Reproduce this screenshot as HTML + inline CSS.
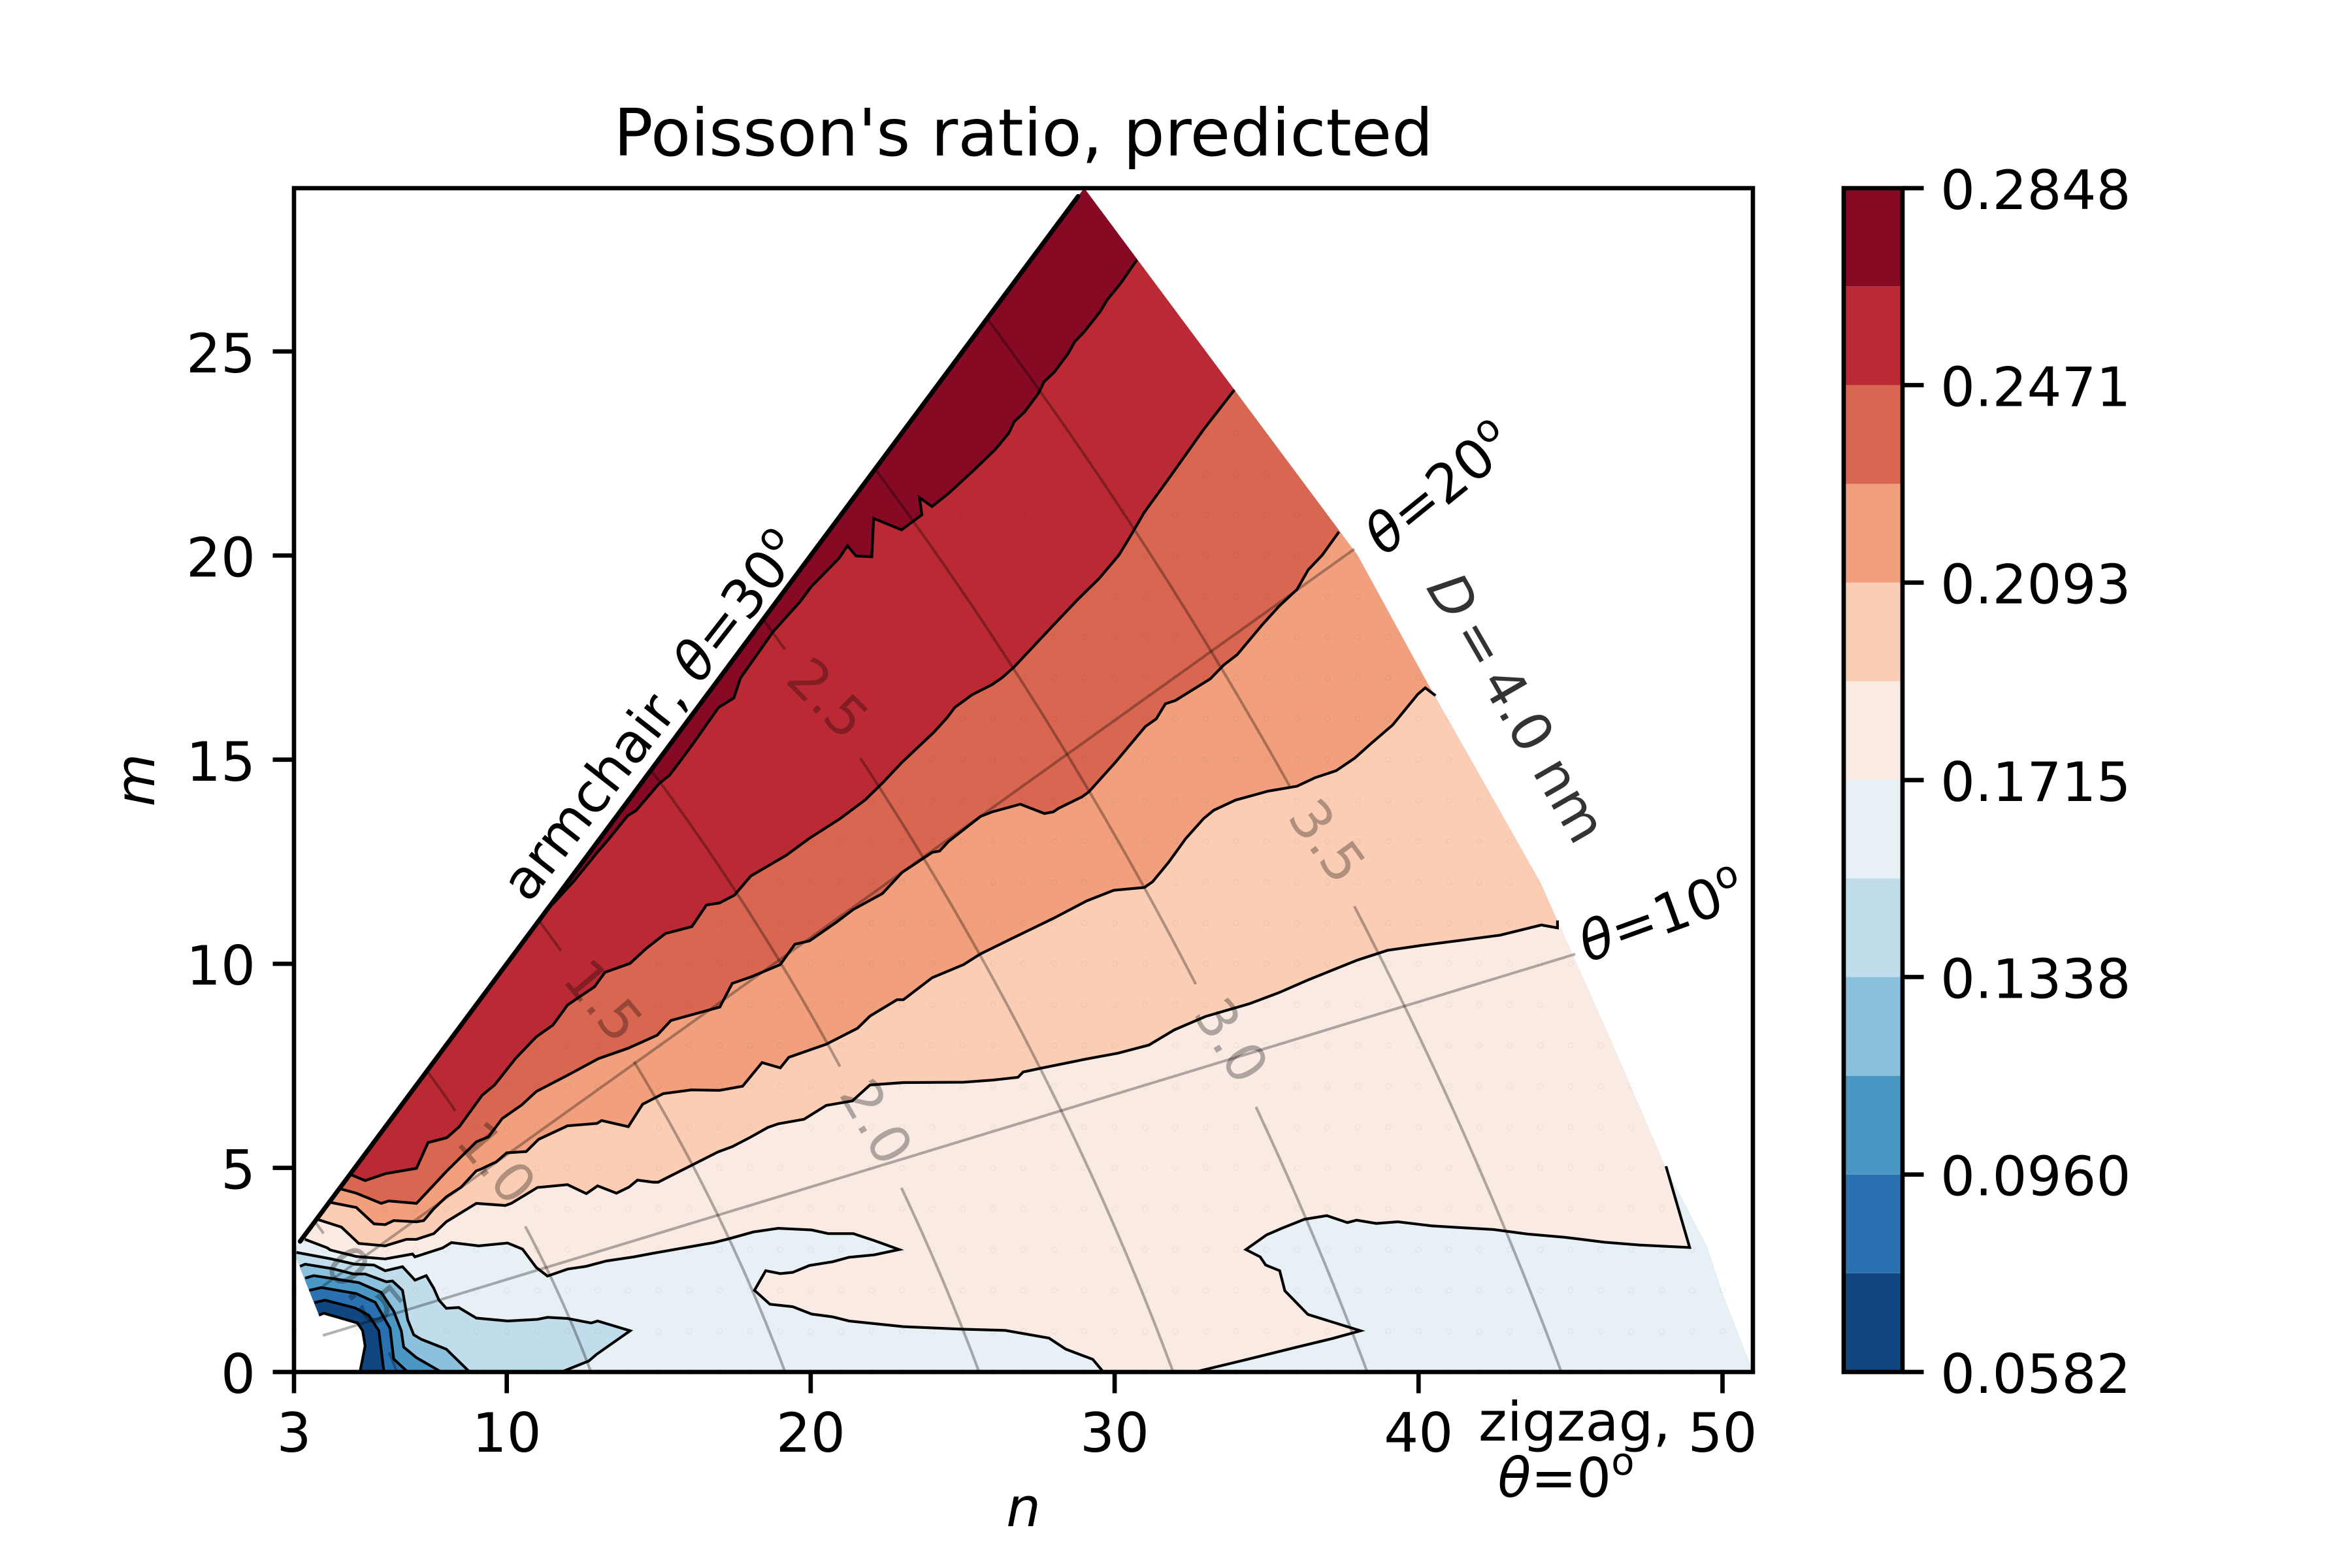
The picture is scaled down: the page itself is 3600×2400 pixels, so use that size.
<!DOCTYPE html>
<html lang="en">
<head>
<meta charset="utf-8">
<title>Poisson's ratio, predicted</title>
<style>
html,body{margin:0;padding:0;background:#fff;}
svg{display:block;font-family:"DejaVu Sans","Liberation Sans",sans-serif;}
</style>
</head>
<body>
<svg id="chart" xmlns="http://www.w3.org/2000/svg" width="3600" height="2400" viewBox="0 0 3600 2400">
  <rect x="0" y="0" width="3600" height="2400" fill="#ffffff"/>
  <defs><clipPath id="domain-clip"><path id="domain-clip-path"/></clipPath></defs>
  <g id="bands" clip-path="url(#domain-clip)"></g>
  <g id="lattice"></g>
  <g id="contours"></g>
  <g id="iso"></g>
  <g id="axes"></g>
  <g id="cbar"></g>
  <text x="1566.5" y="238" font-size="100" text-anchor="middle" fill="#000">Poisson's ratio, predicted</text>
  <text x="1566.5" y="2336" font-size="83.33" font-style="italic" text-anchor="middle" fill="#000">n</text>
  <text transform="translate(236 1194) rotate(-90)" font-size="83.33" font-style="italic" text-anchor="middle" fill="#000">m</text>
  <text transform="translate(809 1384) rotate(-52)" font-size="83.33" fill="#000">armchair, <tspan font-style="italic">θ</tspan>=30<tspan dy="-34" font-size="58">o</tspan></text>
  <text transform="translate(2118.6 852.6) rotate(-39)" font-size="83.33" fill="#000"><tspan font-style="italic">θ</tspan>=20<tspan dy="-34" font-size="58">o</tspan></text>
  <text transform="translate(2430 1473.6) rotate(-20)" font-size="83.33" fill="#000"><tspan font-style="italic">θ</tspan>=10<tspan dy="-34" font-size="58">o</tspan></text>
  <text x="2410" y="2205" font-size="83.33" text-anchor="middle" fill="#000">zigzag,</text>
  <text x="2397" y="2291" font-size="83.33" text-anchor="middle" fill="#000"><tspan font-style="italic">θ</tspan>=0<tspan dy="-34" font-size="58">o</tspan></text>
  <text transform="translate(2182 899) rotate(60)" font-size="83.33" fill="#333333"><tspan font-style="italic">D</tspan><tspan dx="16">=</tspan><tspan dx="16">4.0 nm</tspan></text>
</svg>
<script>
/* ---------- chart data (n, m chirality coordinates) ---------- */
const xTicks = [3, 10, 20, 30, 40, 50];
const yTicks = [0, 5, 10, 15, 20, 25];
const cbarTicks = [0.0582, 0.0960, 0.1338, 0.1715, 0.2093, 0.2471, 0.2848];
const cbarLevels = [0.0582, 0.0771, 0.0960, 0.1149, 0.1338, 0.1527, 0.1715, 0.1904, 0.2093, 0.2282, 0.2471, 0.2660, 0.2848];
const bandColors = ['#114780', '#2a71b2', '#4a97c5', '#8bc1dc', '#c1ddeb', '#e7f0f4', '#f9ebe3', '#fbcdb5', '#f19f7d', '#d86651', '#bb2a34', '#860a24'];

const rightEdge = [[29,29],[38,20],[40.2,17],[44,12],[44.6,11],[46.4,8],[48.1,5.05],[49.5,3.04],[50,1.9],[51,0]];
const contour0 = [[3.82,1.39],[3.98,1.44],[5.09,1.2],[5.26,1.01],[5.34,0.64],[5.17,0]];
const contour1 = [[3.67,1.7],[4.02,1.76],[5.01,1.57],[5.46,1.39],[5.79,1.01],[5.96,0]];
const contour2 = [[3.5,2],[3.9,2.07],[5.05,1.92],[5.67,1.71],[6.16,1.07],[6.28,0.32],[6.74,0]];
const contour3 = [[3.37,2.3],[3.65,2.36],[5.13,2.19],[5.87,1.95],[6.28,1.49],[6.53,1.01],[6.61,0.61],[7.03,0.35],[7.85,0]];
const contour4 = [[3.2,2.59],[3.37,2.64],[4.27,2.53],[4.97,2.4],[5.34,2.4],[6.04,2.21],[6.24,2.23],[6.57,2],[6.74,1.28],[6.94,0.91],[7.19,0.8],[8.01,0.56],[8.78,0]];
const contour5 = [[3.08,2.93],[4.23,2.77],[5.01,2.64],[5.63,2.62],[6,2.48],[6.57,2.58],[6.98,2.25],[7.35,2.36],[7.6,2.05],[7.77,1.76],[8.01,1.56],[8.42,1.58],[9,1.32],[10.03,1.25],[11.01,1.29],[11.34,1.34],[12,1.31],[12.78,1.2],[12.99,1.25],[14.06,1.01],[12.95,0.43],[12.7,0.27],[11.96,0.05],[11.8,0]];
const contour6a = [[3.36,3.25],[4.1,3.04],[4.19,2.99],[5.05,2.83],[6,2.77],[6.9,2.89],[6.98,2.82],[7.89,3.04],[8.18,3.17],[9.08,3.09],[10.03,3.16],[10.52,3.01],[10.97,2.56],[11.34,2.35],[12,2.52],[12.62,2.59],[13.28,2.72],[14.18,2.82],[14.82,2.91],[16.81,3.17],[17.29,3.26],[18.11,3.43],[18.93,3.52],[20.03,3.48],[20.58,3.39],[21.4,3.39],[22.09,3.22],[22.91,3],[22.09,2.87],[21.26,2.81],[20.72,2.7],[19.96,2.61],[19.41,2.44],[19,2.41],[18.52,2.48],[18.15,2],[18.66,1.66],[19.41,1.6],[20.03,1.42],[20.72,1.35],[21.26,1.25],[23.05,1.11],[24.97,1.05],[26.4,1.02],[27.84,0.83],[28.39,0.56],[29.28,0.31],[29.63,0]];
const contour6b = [[32.64,0],[34.26,0.29],[36.05,0.62],[37.16,0.82],[38.09,1.01],[36.36,1.41],[35.6,1.99],[35.43,2.48],[34.97,2.62],[34.79,2.82],[34.32,3],[35,3.36],[35.5,3.52],[36.24,3.74],[36.98,3.83],[37.66,3.66],[37.96,3.72],[38.61,3.64],[39.32,3.68],[40.43,3.58],[41.54,3.53],[42.47,3.49],[43.58,3.38],[44.81,3.3],[46.11,3.18],[47.28,3.11],[48.92,3.05],[48.14,5.04]];
const contour7 = [[44.57,11.06],[44.57,10.88],[44.04,10.95],[42.68,10.7],[41.45,10.58],[40.09,10.45],[38.98,10.33],[37.99,10.09],[36.35,9.6],[35.4,9.29],[34.43,9.02],[32.99,8.71],[31.96,8.38],[31.13,8.01],[30.11,7.81],[29.08,7.67],[27.57,7.44],[26.99,7.35],[26.82,7.22],[25.99,7.15],[25.03,7.1],[23.05,7.09],[21.95,7.03],[21.37,6.64],[20.51,6.53],[19.78,6.19],[18.93,6.08],[18.59,5.99],[18.04,5.76],[17.42,5.52],[16.95,5.39],[14.98,4.65],[14.82,4.65],[14.3,4.7],[14.02,4.53],[13.61,4.38],[12.99,4.56],[12.62,4.37],[12,4.59],[11.01,4.52],[10.15,4.13],[9.95,4.08],[9,4.13],[8.01,3.68],[7.6,3.39],[7.03,3.25],[6.7,3.25],[6,3.09],[5.13,3.15],[4.56,3.55],[3.8,3.73]];
const contour8 = [[40.56,16.57],[40.22,16.76],[39.97,16.6],[39.15,15.85],[38.4,15.37],[37.9,15.04],[37.29,14.73],[36.6,14.56],[36,14.35],[35.05,14.23],[33.98,14.01],[33.26,13.76],[32.93,13.56],[32.33,13.06],[31.78,12.49],[31.25,12.01],[30.98,11.87],[29.97,11.8],[29.08,11.54],[27.98,11.11],[26.54,10.59],[25.58,10.24],[25.03,9.98],[24,9.66],[23.05,9.12],[22.84,9.12],[21.95,8.72],[21.54,8.42],[20.51,8.03],[19.28,7.71],[19,7.45],[18.4,7.58],[17.76,7],[17,6.9],[16.08,6.91],[15.15,6.82],[14.47,6.56],[14,6.01],[13.12,6.16],[12.97,6.09],[12,6.03],[11.05,5.7],[10.64,5.4],[10,5.37],[9.66,5.15],[9.12,4.96],[9,4.93],[8.5,4.53],[8.01,4.29],[7.6,4],[7.27,3.71],[7.03,3.68],[6.28,3.71],[6,3.61],[5.63,3.63],[5.05,4.03],[4.23,4.15]];
const contour9 = [[37.38,20.58],[36.83,20.01],[36.37,19.65],[36,19.17],[35.4,18.75],[34.85,18.3],[34.03,17.57],[33.59,17.32],[33.15,16.98],[32,16.45],[31.67,16.37],[31.37,16],[31.01,15.81],[30.03,14.94],[29.15,14.21],[28.93,14.09],[28.16,13.81],[27.98,13.72],[27.69,13.68],[26.9,13.91],[25.97,13.72],[25.59,13.61],[24.54,13],[24.24,12.76],[24,12.73],[23.01,12.24],[22.36,11.72],[21.4,11.33],[20.85,11.02],[19.96,10.56],[19.48,10.48],[19,9.98],[18.04,9.68],[17.42,9.52],[17.01,8.94],[15.4,8.61],[14.95,8.25],[13.99,7.93],[13.03,7.68],[12,7.27],[10.97,6.87],[10.49,6.54],[9.85,6.21],[9.4,5.76],[9,5.64],[8.01,4.91],[7.03,4.13],[6.12,4.19],[5.87,4.13],[5.05,4.38],[4.56,4.48]];
const contour10 = [[33.94,24.06],[32.92,23.08],[31.86,21.97],[30.96,21.04],[30.58,20.55],[30.14,20.01],[29.48,19.43],[28.82,18.95],[27.89,18.22],[26.68,17.26],[26.3,17.01],[25.97,16.84],[25.31,16.59],[24.74,16.28],[24.49,16.03],[24.05,15.67],[23.01,14.94],[22.35,14.42],[21.8,14.02],[20.98,13.56],[19.95,13.07],[19.2,12.66],[18.03,12.15],[17.49,11.68],[17,11.49],[16.57,11.44],[16.09,10.91],[15.22,10.74],[14.6,10.38],[14.06,10.01],[13.23,9.79],[12.89,9.44],[12,8.99],[11.52,8.5],[10.97,8.21],[10.29,7.68],[9.6,7.03],[9.19,6.78],[8.44,6.01],[8.03,5.74],[7.41,5.62],[7.03,4.99],[6.02,4.86],[5.34,4.69],[4.85,4.84]];
const contour11 = [[30.73,27.24],[30.2,26.67],[29.75,26.26],[29.52,25.97],[29,25.48],[28.69,25.24],[28.47,24.95],[28.02,24.5],[27.68,24.26],[27.49,23.97],[27.04,23.52],[26.7,23.28],[26.51,22.99],[26.06,22.59],[25.38,22.1],[24.55,21.53],[23.99,21.2],[23.58,21.42],[23.66,21],[22.99,20.63],[22.07,20.91],[22.01,19.97],[21.49,19.99],[21.21,20.24],[20.93,19.93],[20.02,19.24],[19.65,18.87],[18.77,18.14],[17.69,17],[17.47,16.51],[16.97,16.28],[16.09,15.35],[15.36,14.62],[15.02,14.42],[14.25,13.75],[13.98,13.63],[13.33,13.03],[12.98,12.73],[12.18,12],[11.5,11.45]];

const diameterLevels = [0.5, 1.0, 1.5, 2.0, 2.5, 3.0, 3.5];
const diameterGapHighTheta = [27.4, 25.7, 27.8, 14.7, 28.7, 12.4, 16.15];
const diameterGapLowTheta = [3.74, 14, 20.1, 8.8, 24.08, 8.44, 12.77];
const diameterLabelRotation = [50, 50, 50, 60, 45, 58, 54];
const thetaGuides = [10, 20];
const armchairSpan = [3.2, 28.8];

/* ---------- scales ---------- */
const AX = {left: 450, right: 2683, top: 288, bottom: 2100};
const nMin = 3, nMax = 51, mMin = 0, mMax = 29;
const xS = n => AX.left + (n - nMin) / (nMax - nMin) * (AX.right - AX.left);
const yS = m => AX.bottom - (m - mMin) / (mMax - mMin) * (AX.bottom - AX.top);
const CB = {left: 2822, right: 2912, top: 288, bottom: 2100};
const cbS = v => CB.bottom - (v - cbarLevels[0]) / (cbarLevels[cbarLevels.length - 1] - cbarLevels[0]) * (CB.bottom - CB.top);
const toPath = pts => 'M' + pts.map(p => xS(p[0]).toFixed(1) + ' ' + yS(p[1]).toFixed(1)).join('L');

const NS = 'http://www.w3.org/2000/svg';
const add = (tag, parent) => { const el = document.createElementNS(NS, tag); parent.appendChild(el); return el; };
const bandsG = document.getElementById('bands');
const latticeG = document.getElementById('lattice');
const contoursG = document.getElementById('contours');
const isoG = document.getElementById('iso');
const axesG = document.getElementById('axes');
const cbarG = document.getElementById('cbar');

/* ---------- filled bands ---------- */
const domain = [[3,3]].concat(rightEdge, contour0.slice().reverse(), [[3,2.93]]);
document.getElementById('domain-clip-path').setAttribute('d', toPath(domain) + 'Z');

const baseBand = add('path', bandsG);


baseBand.setAttribute('d', toPath(domain) + 'Z');
baseBand.setAttribute('fill', bandColors[0]);

const orderLeftFirst = pts => pts[0][0] > pts[pts.length - 1][0] ? pts.slice().reverse() : pts;
const aboveContour = pts => {
  const first = pts[0], last = pts[pts.length - 1];
  return pts.concat([[60, last[1] <= 0 ? -5 : last[1]], [60, 60], [-10, 60], [-10, first[1]]]);
};
const bandBoundaries = [contour1, contour2, contour3, contour4, contour5, contour6a.concat(contour6b), contour7, contour8, contour9, contour10, contour11];
bandBoundaries.forEach((c, i) => {
  const el = add('path', bandsG);
  
  
  el.setAttribute('d', toPath(aboveContour(orderLeftFirst(c))) + 'Z');
  el.setAttribute('fill', bandColors[i + 1]);
});

/* ---------- lattice of (n, m) samples ---------- */
const chiralLimit = Math.pow(Math.PI * 4.0 / 0.246, 2);
for (let n = nMin; n <= nMax; n++) {
  for (let m = mMin; m <= Math.min(n, mMax); m++) {
    if (n * n + n * m + m * m > chiralLimit) continue;
    const dot = add('circle', latticeG);
    
    
    dot.setAttribute('cx', xS(n));
    dot.setAttribute('cy', yS(m));
    dot.setAttribute('r', 4);
    dot.setAttribute('fill', 'none');
    dot.setAttribute('stroke', 'rgba(0,0,0,0.06)');
    dot.setAttribute('stroke-width', 1);
  }
}

/* ---------- contour lines ---------- */
const contourLines = [contour0, contour1, contour2, contour3, contour4, contour5, contour6a, contour6b, contour7, contour8, contour9, contour10, contour11];
contourLines.forEach(c => {
  const el = add('path', contoursG);
  
  
  el.setAttribute('d', toPath(c));
  el.setAttribute('fill', 'none');
  el.setAttribute('stroke', '#000');
  el.setAttribute('stroke-width', 4.17);
  el.setAttribute('stroke-linejoin', 'miter');
});
const armchair = add('path', contoursG);


armchair.setAttribute('d', toPath([[armchairSpan[0], armchairSpan[0]], [armchairSpan[1], armchairSpan[1]]]));
armchair.setAttribute('stroke', '#000');
armchair.setAttribute('stroke-width', 7);
armchair.setAttribute('stroke-linecap', 'round');

/* ---------- constant-diameter curves and constant-angle guides ---------- */
const chiralPoint = (L, deg) => {
  const t = deg * Math.PI / 180;
  return [L * (Math.cos(t) - Math.sin(t) / Math.sqrt(3)), L * 2 * Math.sin(t) / Math.sqrt(3)];
};
diameterLevels.forEach((D, i) => {
  const L = Math.PI * D / 0.246;
  const hi = diameterGapHighTheta[i], lo = diameterGapLowTheta[i];
  const upper = [], lower = [];
  for (let t = 30; t > hi; t -= 0.5) upper.push(chiralPoint(L, t));
  upper.push(chiralPoint(L, hi));
  lower.push(chiralPoint(L, lo));
  for (let t = lo - 0.5; t > 0; t -= 0.5) lower.push(chiralPoint(L, t));
  lower.push(chiralPoint(L, 0));
  const curve = add('path', isoG);
  
  
  curve.setAttribute('d', toPath(upper) + toPath(lower));
  curve.setAttribute('fill', 'none');
  curve.setAttribute('stroke', 'rgba(0,0,0,0.3)');
  curve.setAttribute('stroke-width', 4.17);
  const c = chiralPoint(L, (hi + lo) / 2);
  const label = add('text', isoG);
  
  
  label.setAttribute('transform', 'translate(' + (xS(c[0]) + 8) + ' ' + (yS(c[1]) - 8) + ') rotate(' + diameterLabelRotation[i] + ')');
  label.setAttribute('font-size', 83.33);
  label.setAttribute('text-anchor', 'middle');
  label.setAttribute('dy', '0.36em');
  label.setAttribute('fill', 'rgba(0,0,0,0.3)');
  label.textContent = D.toFixed(1);
});
thetaGuides.forEach(deg => {
  const unit = chiralPoint(1, deg);
  const guide = add('path', isoG);
  
  
  guide.setAttribute('d', toPath([chiralPoint(3.95 / unit[0], deg), chiralPoint(51.05, deg)]));
  guide.setAttribute('stroke', 'rgba(0,0,0,0.3)');
  guide.setAttribute('stroke-width', 4.17);
});

/* ---------- axes ---------- */
const frame = add('rect', axesG);


frame.setAttribute('x', AX.left);
frame.setAttribute('y', AX.top);
frame.setAttribute('width', AX.right - AX.left);
frame.setAttribute('height', AX.bottom - AX.top);
frame.setAttribute('fill', 'none');
frame.setAttribute('stroke', '#000');
frame.setAttribute('stroke-width', 6.67);

xTicks.forEach(v => {
  const tick = add('line', axesG);
  
  
  tick.setAttribute('x1', xS(v));
  tick.setAttribute('x2', xS(v));
  tick.setAttribute('y1', AX.bottom);
  tick.setAttribute('y2', AX.bottom + 32.5);
  tick.setAttribute('stroke', '#000');
  tick.setAttribute('stroke-width', 6.67);
  const t = add('text', axesG);
  
  
  t.setAttribute('x', xS(v));
  t.setAttribute('y', 2222);
  t.setAttribute('font-size', 83.33);
  t.setAttribute('text-anchor', 'middle');
  t.textContent = String(v);
});
yTicks.forEach(v => {
  const tick = add('line', axesG);
  
  
  tick.setAttribute('x1', AX.left - 32.5);
  tick.setAttribute('x2', AX.left);
  tick.setAttribute('y1', yS(v));
  tick.setAttribute('y2', yS(v));
  tick.setAttribute('stroke', '#000');
  tick.setAttribute('stroke-width', 6.67);
  const t = add('text', axesG);
  
  
  t.setAttribute('x', 391);
  t.setAttribute('y', yS(v) + 32);
  t.setAttribute('font-size', 83.33);
  t.setAttribute('text-anchor', 'end');
  t.textContent = String(v);
});

/* ---------- colorbar ---------- */
bandColors.forEach((color, i) => {
  const seg = add('rect', cbarG);
  
  
  seg.setAttribute('x', CB.left);
  seg.setAttribute('y', cbS(cbarLevels[i + 1]));
  seg.setAttribute('width', CB.right - CB.left);
  seg.setAttribute('height', cbS(cbarLevels[i]) - cbS(cbarLevels[i + 1]));
  seg.setAttribute('fill', color);
});
const cbFrame = add('rect', cbarG);


cbFrame.setAttribute('x', CB.left);
cbFrame.setAttribute('y', CB.top);
cbFrame.setAttribute('width', CB.right - CB.left);
cbFrame.setAttribute('height', CB.bottom - CB.top);
cbFrame.setAttribute('fill', 'none');
cbFrame.setAttribute('stroke', '#000');
cbFrame.setAttribute('stroke-width', 6.67);
cbarTicks.forEach(v => {
  const tick = add('line', cbarG);
  
  
  tick.setAttribute('x1', CB.right);
  tick.setAttribute('x2', CB.right + 32.5);
  tick.setAttribute('y1', cbS(v));
  tick.setAttribute('y2', cbS(v));
  tick.setAttribute('stroke', '#000');
  tick.setAttribute('stroke-width', 6.67);
  const t = add('text', cbarG);
  
  
  t.setAttribute('x', 2970);
  t.setAttribute('y', cbS(v) + 32);
  t.setAttribute('font-size', 83.33);
  t.textContent = v.toFixed(4);
});
</script>
</body>
</html>
